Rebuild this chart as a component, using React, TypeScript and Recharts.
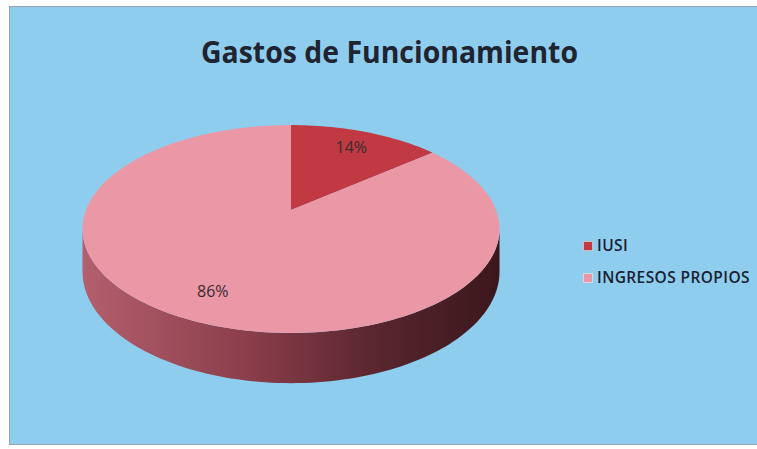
import React from 'react';
import { PieChart, Pie, Cell, Legend } from 'recharts';

const categories = ['IUSI', 'INGRESOS PROPIOS'];
const values = [14, 86];
const sliceColors = ['#c13a43', '#ea98a6'];
const wallStops = ['#b45f6e', '#8a3e4a', '#5a2630', '#3a171c'];
const chartTitle = 'Gastos de Funcionamiento';

const data = categories.map((name, i) => ({ name, value: values[i] }));

const RAD = Math.PI / 180;
const K = 0.183; // perspective strength
const VY = 0.49; // vertical squash of the disc
const DEPTH = 41; // thickness of the pie

function project(cx: number, cy: number, r: number, a: number, f = 1, drop = 0) {
  const X = Math.cos(a * RAD) * f;
  const Z = Math.sin(a * RAD) * f;
  const s = 1 / (1 + K * Z);
  return [cx + r * X * s, cy - r * VY * Z * s + drop * s];
}

function arcPoints(cx: number, cy: number, r: number, a0: number, a1: number, drop: number) {
  const n = Math.max(2, Math.ceil(Math.abs(a1 - a0) / 1.5));
  const pts: number[][] = [];
  for (let i = 0; i <= n; i++) {
    const a = a0 + ((a1 - a0) * i) / n;
    pts.push(project(cx, cy, r, a, 1, drop));
  }
  return pts;
}

const WALL_LO = -180 + Math.asin(K) / RAD;
const WALL_HI = -Math.asin(K) / RAD;

const Slice3D = (props: any) => {
  const { cx, cy, outerRadius: r, startAngle, endAngle, fill, index } = props;
  const lo = Math.min(startAngle, endAngle);
  const hi = Math.max(startAngle, endAngle);
  const walls: number[][] = [];
  for (const shiftA of [-360, 0, 360]) {
    const a = Math.max(lo, WALL_LO + shiftA);
    const b = Math.min(hi, WALL_HI + shiftA);
    if (b > a) walls.push([a, b]);
  }
  const top = arcPoints(cx, cy, r, startAngle, endAngle, 0);
  const topD =
    `M${cx},${cy} ` + top.map((p) => `L${p[0].toFixed(2)},${p[1].toFixed(2)}`).join(' ') + ' Z';
  const gid = `wall-grad-${index ?? 0}`;
  return (
    <g>
      <defs>
        <linearGradient id={gid} gradientUnits="userSpaceOnUse" x1={cx - r * 1.02} y1={0} x2={cx + r * 1.02} y2={0}>
          <stop offset="0" stopColor={wallStops[0]} />
          <stop offset="0.4" stopColor={wallStops[1]} />
          <stop offset="0.7" stopColor={wallStops[2]} />
          <stop offset="1" stopColor={wallStops[3]} />
        </linearGradient>
      </defs>
      {walls.map(([a, b], i) => {
        const t = arcPoints(cx, cy, r, a, b, 0);
        const bt = arcPoints(cx, cy, r, b, a, DEPTH);
        const d =
          'M' +
          t.map((p) => `${p[0].toFixed(2)},${p[1].toFixed(2)}`).join(' L') +
          ' L' +
          bt.map((p) => `${p[0].toFixed(2)},${p[1].toFixed(2)}`).join(' L') +
          ' Z';
        return <path key={i} d={d} fill={`url(#${gid})`} stroke="none" />;
      })}
      <path d={topD} fill={fill} stroke="none" />
    </g>
  );
};

const renderLabel = (p: any) => {
  const [x, y] = project(p.cx, p.cy, p.outerRadius, p.midAngle, 0.78, 0);
  return (
    <text
      x={x}
      y={y}
      textAnchor="middle"
      dominantBaseline="central"
      fill="#3a2b2e"
      fontSize={16}
      fontFamily="'Open Sans', sans-serif"
    >
      {`${Math.round(p.percent * 100)}%`}
    </text>
  );
};

const renderLegend = (props: any) => {
  const payload = props.payload || [];
  return (
    <svg width={184} height={70} style={{ display: 'block', overflow: 'visible' }}>
      {payload.map((e: any, i: number) => (
        <g key={i}>
          <rect x={0.5} y={4.5 + 32 * i} width={9} height={9} fill={e.color} stroke="rgba(255,255,255,0.45)" strokeWidth={1} />
          <text
            x={14}
            y={14 + 32 * i}
            fontSize={15.5}
            fontWeight={600}
            letterSpacing={0.4}
            fill="#1a2030"
            fontFamily="'Open Sans', sans-serif"
          >
            {e.value}
          </text>
        </g>
      ))}
    </svg>
  );
};

export default function App() {
  return (
    <div style={{ paddingTop: 6, paddingBottom: 4, width: 757, boxSizing: 'border-box' }}>
      <style>{`html,body{margin:0;padding:0;background:#fff;overflow:hidden}`}</style>
      <div
        style={{
          position: 'relative',
          width: 748,
          height: 439,
          marginLeft: 9,
          boxSizing: 'border-box',
          background: '#8fcdef',
          border: '1px solid #97a4ae',
          borderRight: 'none',
          overflow: 'hidden',
        }}
      >
        <PieChart width={747} height={437} margin={{ top: 0, right: 0, bottom: 0, left: 0 }}>
          <Pie
            data={data}
            dataKey="value"
            nameKey="name"
            cx={281}
            cy={203}
            outerRadius={205}
            startAngle={90}
            endAngle={-270}
            isAnimationActive={false}
            label={renderLabel}
            labelLine={false}
            stroke="none"
            shape={Slice3D}
            inactiveShape={Slice3D}
            activeShape={Slice3D}
          >
            {data.map((d, i) => (
              <Cell key={d.name} fill={sliceColors[i]} />
            ))}
          </Pie>
          <Legend
            content={renderLegend}
            itemSorter={(item: any) => categories.indexOf(item.value)}
            wrapperStyle={{ left: 573, top: 230, width: 184, height: 70 }}
          />
        </PieChart>
        <svg width={747} height={70} style={{ position: 'absolute', left: 0, top: 0, pointerEvents: 'none' }}>
          <text
            x={379.5}
            y={56}
            textAnchor="middle"
            fontSize={31}
            fontWeight={700}
            fill="#1f2430"
            fontFamily="'Open Sans', sans-serif"
            textLength={377}
            lengthAdjust="spacingAndGlyphs"
          >
            {chartTitle}
          </text>
        </svg>
      </div>
    </div>
  );
}
